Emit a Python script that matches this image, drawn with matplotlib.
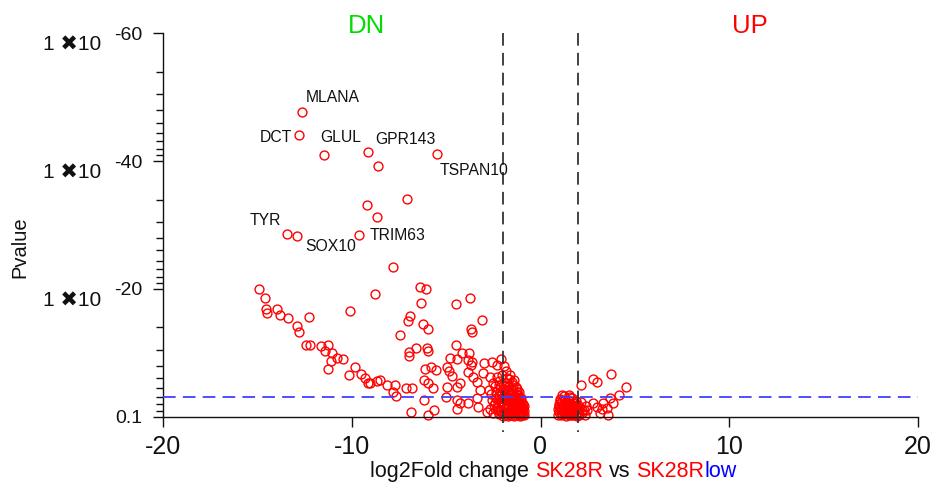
import matplotlib
matplotlib.use("Agg")
import matplotlib.pyplot as plt
import numpy as np
from matplotlib.transforms import blended_transform_factory

plt.rcParams['font.family'] = ['Liberation Sans', 'DejaVu Sans']
plt.rcParams['axes.unicode_minus'] = False

# ---------------- data ----------------
# labelled genes: log2 fold change and -log10 p position
genes = ["MLANA", "DCT", "GLUL", "GPR143", "TSPAN10", "TYR", "SOX10", "TRIM63"]
gene_lfc = [-12.65, -12.79, -11.45, -9.12, -5.50, -13.41, -12.89, -9.60]
gene_nlp = [47.7, 44.1, 40.9, 41.5, 41.1, 28.65, 28.3, 28.5]

# other strongly changed genes (down)
dn_lfc = [-8.59, -7.09, -9.18, -8.68, -7.83,
          -14.90, -14.58, -14.53, -14.47, -13.98, -13.79, -13.39, -12.28, -12.92, -12.81,
          -12.44, -12.20, -11.65, -11.27, -11.43, -11.05, -11.12, -10.78, -10.45, -11.27,
          -10.07, -8.77, -10.13, -9.84, -9.53, -9.31, -9.14, -9.03, -8.64, -8.13, -7.71,
          -7.84, -7.66, -7.46, -6.38, -6.05, -6.32, -4.48, -3.74, -6.93, -7.04, -6.24,
          -5.94, -3.08, -3.70, -3.65, -4.49, -6.60, -6.95, -6.95, -6.03, -5.98, -4.17,
          -3.80, -4.78, -4.44, -3.86, -3.70, -2.08, -2.99, -2.59, -6.12, -5.82, -5.55,
          -4.95, -4.86, -4.69, -8.50, -7.14, -6.81, -6.17, -5.94, -5.68, -6.16, -6.86,
          -5.94, -5.64, -4.97, -5.01, -4.44, -4.26, -3.83, -3.56, -4.44, -4.26, -4.44,
          -3.83, -3.38, -3.21, -3.38, -3.30, -2.85, -3.03, -2.68, -2.32, -3.65]
dn_nlp = [39.2, 34.1, 33.2, 31.25, 23.44,
          20.0, 18.5, 16.78, 16.16, 16.78, 15.84, 15.47, 15.53, 14.17, 13.28,
          11.25, 11.25, 11.0, 11.25, 10.31, 9.91, 8.75, 9.22, 8.97, 7.41,
          16.59, 19.17, 6.56, 7.84, 6.75, 6.05, 5.31, 5.22, 5.66, 5.0, 4.95,
          3.91, 3.28, 12.77, 20.31, 19.91, 17.72, 17.61, 18.5, 15.78, 15.0, 14.44,
          13.66, 15.06, 13.70, 13.23, 11.2, 10.78, 10.06, 9.48, 10.78, 10.27, 10.0,
          10.0, 9.22, 8.97, 8.86, 8.08, 8.97, 8.34, 8.55, 7.41, 7.81, 7.30,
          7.72, 7.19, 6.36, 5.73, 4.44, 4.53, 5.73, 5.22, 4.44, 2.61, 0.78,
          0.27, 1.05, 4.69, 3.13, 4.69, 5.22, 7.03, 6.25, 2.61, 2.09, 1.16,
          2.09, 5.47, 4.17, 2.88, 1.56, 0.78, 6.78, 6.25, 8.08, 8.59]

# dense group of small negative changes
blob_lfc = [-2.75, -2.60, -2.55, -2.45, -2.40, -2.35, -2.30, -2.25, -2.20, -2.20, -2.15, -2.10,
            -2.05, -2.05, -2.00, -2.00, -1.95, -1.90, -1.90, -1.85, -1.85, -1.80, -1.80, -1.75,
            -1.75, -1.70, -1.70, -1.65, -1.65, -1.60, -1.60, -1.55, -1.55, -1.50, -1.50, -1.50,
            -1.45, -1.45, -1.40, -1.40, -1.35, -1.35, -1.30, -1.30, -1.25, -1.25, -1.20, -1.20,
            -1.15, -1.15, -1.10, -1.10, -1.05, -1.05, -1.00, -1.00, -0.95, -0.95, -0.90, -0.90,
            -1.30, -1.60, -1.95, -2.30, -2.50, -1.40, -1.20, -1.70, -2.00, -1.40, -1.10,
            -2.65, -2.50, -2.40, -2.28, -2.15, -2.08, -1.98, -1.88, -1.78, -1.68, -1.58, -1.48,
            -1.38, -1.28, -1.18, -1.08, -0.98, -0.92, -2.35, -2.18, -2.02, -1.92, -1.82, -1.72,
            -1.62, -1.52, -1.42, -1.32, -1.22, -1.12, -1.02, -0.88, -1.88, -1.55, -1.25, -2.12,
            -1.75, -1.45, -1.15, -0.96, -2.22, -1.66]
blob_nlp = [4.2, 3.5, 2.6, 1.8, 4.8, 3.0, 1.0, 2.2, 5.6, 0.4, 3.8, 1.5,
            6.6, 2.9, 4.4, 0.8, 2.0, 3.4, 5.2, 1.2, 7.2, 2.6, 0.3, 4.0,
            6.0, 1.8, 3.1, 0.6, 4.8, 2.3, 1.0, 3.6, 0.2, 1.5, 2.8, 5.4,
            0.7, 4.2, 2.0, 1.2, 3.2, 0.3, 2.5, 1.7, 0.9, 3.8, 2.1, 0.4,
            1.4, 2.9, 0.8, 1.9, 0.3, 2.4, 1.1, 1.6, 0.5, 2.0, 0.9, 0.2,
            4.6, 6.6, 8.0, 6.2, 5.2, 5.8, 3.4, 0.1, 0.1, 0.05, 0.1,
            1.2, 0.6, 2.2, 1.4, 0.9, 2.5, 1.6, 0.6, 1.3, 2.4, 0.8, 2.1,
            1.5, 0.7, 1.8, 1.4, 0.7, 1.3, 3.8, 3.3, 3.6, 2.7, 3.3, 2.8,
            3.9, 3.4, 2.7, 3.6, 2.8, 2.3, 2.9, 1.6, 4.4, 4.3, 4.3, 4.6,
            5.0, 4.9, 3.8, 1.2, 5.0, 5.9]

# up-regulated side
up_lfc = [0.95, 0.95, 1.00, 1.00, 1.05, 1.10, 1.10, 1.15, 1.20, 1.20, 1.25, 1.30, 1.30, 1.35,
          1.40, 1.40, 1.45, 1.50, 1.50, 1.55, 1.60, 1.60, 1.65, 1.70, 1.70, 1.75, 1.80, 1.85,
          1.90, 1.90, 1.95, 2.00, 2.00, 2.05, 2.10, 2.15, 2.20, 1.25, 1.55, 2.30, 2.40, 2.35,
          2.13, 2.80, 3.01, 3.74, 4.51, 4.14, 3.68, 3.86, 3.33, 2.80, 2.98, 3.24, 3.51, 3.15,
          3.59, 1.12, 1.53, 2.45,
          0.98, 1.08, 1.18, 1.28, 1.38, 1.48, 1.58, 1.68, 1.78, 1.88, 1.98, 1.03, 1.23, 1.43,
          1.63, 1.83, 2.03, 2.18, 1.13, 1.33, 1.73, 1.93]
up_nlp = [0.3, 1.2, 2.0, 0.7, 2.8, 1.5, 0.2, 2.4, 0.9, 1.9, 0.4, 2.6, 1.3, 0.1,
          2.0, 0.8, 1.6, 0.3, 2.4, 1.1, 1.9, 0.5, 2.9, 1.4, 0.2, 2.2, 0.9, 1.7,
          0.4, 2.5, 1.2, 0.7, 1.9, 0.2, 1.4, 2.3, 0.6, 3.2, 3.1, 1.0, 1.7, 0.3,
          4.95, 5.89, 5.38, 6.67, 4.59, 3.44, 2.88, 2.09, 2.09, 2.19, 1.56, 1.16, 1.31, 0.53,
          0.27, 3.39, 3.39, 1.05,
          1.6, 1.0, 1.5, 2.0, 1.3, 0.9, 1.4, 0.7, 1.5, 1.0, 1.3, 2.4, 0.6, 2.3,
          0.3, 2.1, 0.5, 1.0, 0.4, 0.6, 0.5, 0.1]

lfc_cut = 2.0
p_line = 3.08
x_ticks = [-20, -10, 0, 10, 20]
x_ticklabels = ["-20", "-10", "0", "10", "20"]
y_ticks = [0, 20, 40, 60]
y_ticklabels = ["0.1", "-20", "-40", "-60"]

# ---------------- figure ----------------
fig = plt.figure(figsize=(9.36, 4.92), dpi=100)
ax = fig.add_axes([163/936, 75.3/492, 755/936, 383.4/492])
ax.set_xlim(-20, 20)
ax.set_ylim(0, 60)

mk = dict(linestyle='none', marker='o', markerfacecolor='none', markeredgecolor='#ff0000',
          markersize=6.4, markeredgewidth=1.0, clip_on=False, zorder=2)
all_lfc = gene_lfc + dn_lfc + blob_lfc + up_lfc
all_nlp = gene_nlp + dn_nlp + blob_nlp + up_nlp
ax.plot(all_lfc, all_nlp, **mk)

# threshold lines
for xv in (-lfc_cut, lfc_cut):
    ax.plot([xv, xv], [60, -2.4], color='#333333', lw=1.3, dashes=(7, 4), clip_on=False, zorder=3)
ax.axhline(p_line, color='#4040ff', lw=1.3, dashes=(7, 4), zorder=3)

# gene labels (layout offsets)
label_pos = {
    "MLANA": (-12.42, 49.2, 'left'),
    "DCT": (-13.18, 42.98, 'right'),
    "GLUL": (-11.65, 42.98, 'left'),
    "GPR143": (-8.77, 42.6, 'left'),
    "TSPAN10": (-5.36, 37.9, 'left'),
    "TYR": (-15.39, 29.95, 'left'),
    "SOX10": (-12.48, 25.94, 'left'),
    "TRIM63": (-9.07, 27.72, 'left'),
}
for g in genes:
    lx, ly, ha = label_pos[g]
    ax.text(lx, ly, g, ha=ha, va='baseline', fontsize=11.3, color='#111111')

# spines
for s in ('top', 'right'):
    ax.spines[s].set_visible(False)
for s in ('left', 'bottom'):
    ax.spines[s].set_linewidth(1.0)
    ax.spines[s].set_color('#111111')

ax.set_xticks(x_ticks)
ax.set_xticklabels(x_ticklabels, fontsize=18)
ax.tick_params(axis='x', length=7.5, width=1.0, pad=6, colors='#111111')

ax.set_yticks(y_ticks)
ax.set_yticklabels(y_ticklabels, fontsize=14)
ax.tick_params(axis='y', which='major', length=7.5, width=1.0, pad=7.0, colors='#111111')
minor = []
for a in (0, 20, 40):
    for k in range(2, 10):
        minor.append(a + 20 - 20 * np.log10(k))
ax.set_yticks(minor, minor=True)
ax.tick_params(axis='y', which='minor', length=5.0, width=1.0, colors='#111111')

# "1 x10" prefixes on y tick labels
trans = blended_transform_factory(ax.transAxes, ax.transData)
for yv in y_ticks[1:]:
    ax.annotate("1 \u271610", xy=(0, yv), xycoords=trans, xytext=(-61.3, -17),
                textcoords='offset pixels', ha='right', va='baseline', fontsize=15,
                color='#111111', annotation_clip=False)

# axis labels
fig.text(20/936, 1 - 247/492, "Pvalue", rotation=90, ha='center', va='center', fontsize=14.5,
         color='#111111')
parts = [("log2Fold change", '#111111', 0), ("SK28R", '#ff0000', 6), ("vs", '#111111', 6),
         ("SK28R", '#ff0000', 6), ("low", '#0000ff', 0)]
prev = fig.text(370/936, 1 - 482/492, parts[0][0], color=parts[0][1], fontsize=15.5,
                ha='left', va='bottom')
for txt, col, off in parts[1:]:
    prev = ax.annotate(txt, xy=(1, 0), xycoords=prev, xytext=(off, 0), textcoords='offset pixels',
                       ha='left', va='bottom', fontsize=15.5, color=col, annotation_clip=False)

# DN / UP
fig.text(367/936, 1 - 33/492, "DN", color='#00dd00', fontsize=18.5, ha='center', va='baseline')
fig.text(750/936, 1 - 33/492, "UP", color='#ff0000', fontsize=18.5, ha='center', va='baseline')

fig.savefig("out.png", dpi=100)
